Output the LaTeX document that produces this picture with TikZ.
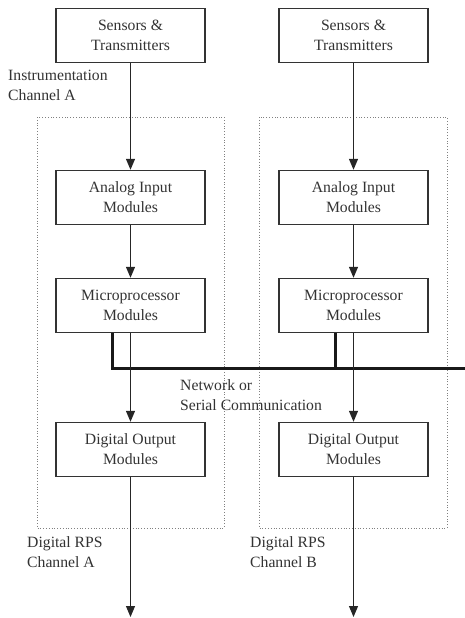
\documentclass[tikz,border=0pt]{standalone}
\usepackage{fontspec}
\setmainfont{Liberation Serif}
\usetikzlibrary{arrows.meta}
\tikzset{
  modbox/.style={draw=black!80, line width=1.4pt, minimum width=149pt, minimum height=54pt,
    align=center, inner sep=0pt, text=black!80, font=\fontsize{15.7}{20}\selectfont},
  chlabel/.style={align=left, inner sep=0pt, text=black!80, font=\fontsize{15.7}{20}\selectfont},
  flow/.style={draw=black!85, line width=1.2pt, -{Triangle[length=11pt,width=9pt]}},
  bus/.style={draw=black!90, line width=3pt},
  chframe/.style={draw=black!50, dotted, line width=0.8pt}
}
\begin{document}
\begin{tikzpicture}[x=1pt,y=-1pt]
\useasboundingbox (0,0) rectangle (465,618);
\pgfmathsetmacro{\xa}{130.5}
\pgfmathsetmacro{\xb}{353.5}
%
\draw[chframe] (37,117) rectangle (224,528);
\draw[chframe] (259,117) rectangle (447,528);
%
\node[modbox] (sensA) at (\xa,35.5) {Sensors \&\\Transmitters};
\node[modbox] (aiA) at (\xa,197.5) {Analog Input\\Modules};
\node[modbox] (micA) at (\xa,305.5) {Microprocessor\\Modules};
\node[modbox] (doA) at (\xa,449.5) {Digital Output\\Modules};
\coordinate (endA) at (\xa,617);
%
\node[modbox] (sensB) at (\xb,35.5) {Sensors \&\\Transmitters};
\node[modbox] (aiB) at (\xb,197.5) {Analog Input\\Modules};
\node[modbox] (micB) at (\xb,305.5) {Microprocessor\\Modules};
\node[modbox] (doB) at (\xb,449.5) {Digital Output\\Modules};
\coordinate (endB) at (\xb,617);
%
\node[chlabel, anchor=west] (instA) at (8,85) {Instrumentation\\Channel A};
\node[chlabel, anchor=west] (netlbl) at (180,395) {Network or\\Serial Communication};
\node[chlabel, anchor=west] (rpsA) at (27,552) {Digital RPS\\Channel A};
\node[chlabel, anchor=west] (rpsB) at (250,552) {Digital RPS\\Channel B};
%
\coordinate (busL) at (112,368);
\coordinate (busR) at (466,368);
\coordinate (tapB) at (335,368);
\draw[bus] (micA.south -| busL) -- (busL) -- (busR);
\draw[bus] (micB.south -| tapB) -- (tapB);
%
\draw[flow] (sensA) -- (aiA);
\draw[flow] (aiA) -- (micA);
\draw[flow] (micA) -- (doA);
\draw[flow] (doA) -- (endA);
%
\draw[flow] (sensB) -- (aiB);
\draw[flow] (aiB) -- (micB);
\draw[flow] (micB) -- (doB);
\draw[flow] (doB) -- (endB);
\end{tikzpicture}
\end{document}
